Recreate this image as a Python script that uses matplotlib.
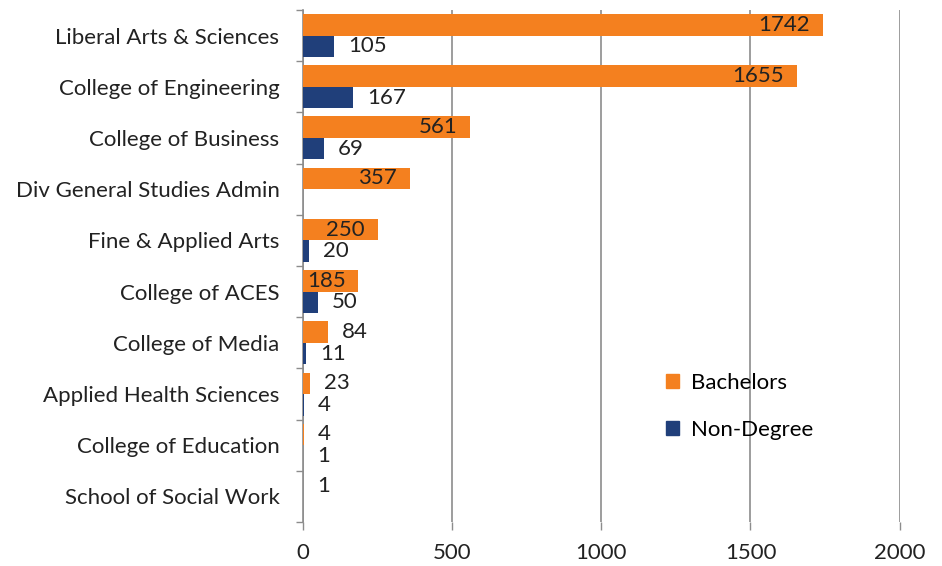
import numpy as np
import matplotlib.pyplot as plt
from matplotlib.patches import Patch

colleges = ['Liberal Arts & Sciences', 'College of Engineering', 'College of Business',
            'Div General Studies Admin', 'Fine & Applied Arts', 'College of ACES',
            'College of Media', 'Applied Health Sciences', 'College of Education',
            'School of Social Work']
bachelors = [1742, 1655, 561, 357, 250, 185, 84, 23, 4, 1]
non_degree = [105, 167, 69, 0, 20, 50, 11, 4, 1, 0]

orange = '#F4801F'
navy = '#203F7A'
grey = '#8C8C8C'

plt.rcParams['font.family'] = ['Lato', 'DejaVu Sans']

fig = plt.figure(figsize=(9.42, 5.66), dpi=100)
ax = fig.add_axes([0.3217, 0.0777, 0.6333, 0.9047])

y = np.arange(len(colleges))
h = 0.42
ax.barh(y - h / 2, bachelors, height=h, color=orange, label='Bachelors', zorder=3)
ax.barh(y + h / 2, non_degree, height=h, color=navy, label='Non-Degree', zorder=3)

fs = 16
for yi, v in zip(y, bachelors):
    if v > 150:
        ax.annotate(str(v), (v, yi - h / 2), xytext=(-9, 0), textcoords='offset points',
                    ha='right', va='center', fontsize=fs, color='#222222', zorder=4)
    else:
        ax.annotate(str(v), (v, yi - h / 2), xytext=(10, 0), textcoords='offset points',
                    ha='left', va='center', fontsize=fs, color='#222222', zorder=4)
for yi, v in zip(y, non_degree):
    if v > 0:
        ax.annotate(str(v), (v, yi + h / 2), xytext=(10, 0), textcoords='offset points',
                    ha='left', va='center', fontsize=fs, color='#222222', zorder=4)

ax.set_xlim(0, 2000)
ax.set_ylim(len(colleges) - 0.5, -0.5)
ax.set_xticks([0, 500, 1000, 1500, 2000])
ax.set_yticks(y)
ax.set_yticklabels(colleges, fontsize=fs, color='#222222')
ax.set_yticks(np.arange(-0.5, len(colleges)), minor=True)
ax.tick_params(axis='y', which='major', length=0, pad=17)
ax.tick_params(axis='y', which='minor', length=5, color=grey, width=1)
ax.tick_params(axis='x', length=6, color=grey, width=1, labelsize=fs, labelcolor='#222222', pad=9)
ax.grid(axis='x', color=grey, linewidth=1.2, zorder=0)

for s in ['top', 'right', 'bottom']:
    ax.spines[s].set_visible(False)
ax.spines['left'].set_color(grey)
ax.spines['left'].set_linewidth(1.2)

handles = [Patch(color=orange, label='Bachelors'), Patch(color=navy, label='Non-Degree')]
ax.legend(handles=handles, loc='upper left', bbox_to_anchor=(0.575, 0.33), frameon=False,
          fontsize=fs, handlelength=0.6, handleheight=0.6, handletextpad=0.5, labelspacing=1.2)

plt.savefig('out.png', dpi=100)
